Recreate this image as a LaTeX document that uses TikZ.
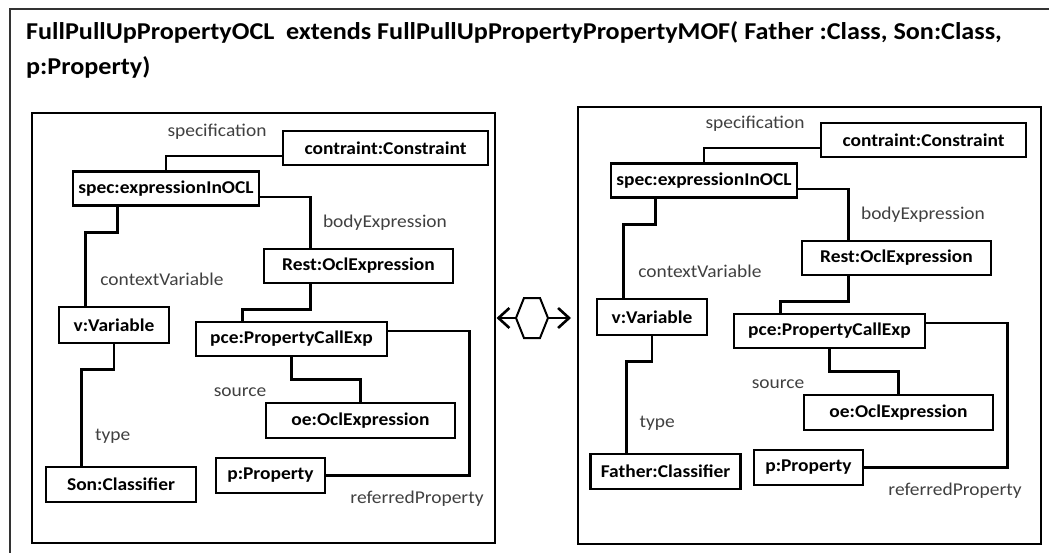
\documentclass[tikz,border=0pt]{standalone}
\usepackage{fontspec}
\setmainfont{Carlito}[FakeStretch=1.08]
\usepackage{tikz}
\usetikzlibrary{arrows.meta}
\tikzset{box/.style={draw, line width=2.6pt, minimum height=34pt, inner sep=0pt,
      font=\bfseries\fontsize{18}{20}\selectfont}}
\tikzset{lbl/.style={text=black!75, inner sep=0pt, font=\fontsize{18}{20}\selectfont}}
\tikzset{link/.style={line width=2.6pt}}
\tikzset{panel/.style={line width=2.6pt}}
\tikzset{frame/.style={line width=1.4pt, black!80}}
\tikzset{heading/.style={align=left, inner sep=0pt, font=\bfseries\fontsize{24.2}{35}\selectfont}}

% one object diagram; #1 classifier text, #2 its position
\newcommand{\oclpanel}[2]{%
  \node[box, minimum width=205pt] (con) at (385.5,148) {contraint:Constraint};
  \node[box, minimum width=186pt] (spec) at (166,188.5) {spec:expressionInOCL};
  \node[box, minimum width=189pt] (rest) at (358.5,266) {Rest:OclExpression};
  \node[box, minimum width=110pt, minimum height=36pt] (var) at (114,325) {v:Variable};
  \node[box, minimum width=191pt] (pce) at (291.5,339) {pce:PropertyCallExp};
  \node[box, minimum width=189pt, minimum height=35pt] (oe) at (360.5,420.5) {oe:OclExpression};
  \node[box, minimum width=109pt, minimum height=35pt] (prop) at (270.5,475.5) {p:Property};
  \node[box, minimum width=150pt, minimum height=35pt] (cls) at (#2) {#1};
  \draw[link] ([yshift=-8pt]con.west) -| (spec.north);
  \draw[link] ([yshift=-8.5pt]spec.east) -| ([xshift=48pt]rest.north west);
  \draw[link] ([xshift=46pt]spec.south west) -- ++(0,26) -| ([xshift=28pt]var.north west);
  \draw[link] ([xshift=48pt]rest.south west) -- ++(0,25) -| ([xshift=48pt]pce.north west);
  \draw[link] (var.south) -- ++(0,25) -| ([xshift=37pt]cls.north west);
  \draw[link] (pce.south) -- ++(0,22) -| (oe.north);
  \draw[link] ([yshift=8pt]pce.east) -- ++(81,0) |- (prop.east);
  \node[lbl] (specl) at (217,132) {specification};
  \node[lbl] (bodyl) at (385,223) {bodyExpression};
  \node[lbl] (ctxl) at (162,279) {contextVariable};
  \node[lbl] (typel) at ([xshift=68pt, yshift=29pt]cls.north west) {type};
  \node[lbl] (srcl) at (240,392) {source};
  \node[lbl] (refl) at (417,499) {referredProperty};
}

\begin{document}
\begin{tikzpicture}[x=1pt, y=-1pt]
  \useasboundingbox (0,0) rectangle (1049,553);
  \draw[frame] (10,553) -- (10,9) -- (1049,9);
  \node[heading, anchor=north west] (title) at (26,21)
    {FullPullUpPropertyOCL\ \ extends FullPullUpPropertyPropertyMOF( Father :Class, Son:Class,\\p:Property)};

  \draw[panel] (32,113) rectangle (495,543);
  \draw[panel] (578,107) rectangle (1041,544);
  \begin{scope}[name prefix=L-]
    \oclpanel{Son:Classifier}{121,484.5}
  \end{scope}
  \begin{scope}[shift={(538,-8)}, name prefix=R-]
    \oclpanel{Father:Classifier}{127.5,479.5}
  \end{scope}

  % refactoring symbol between the two
  \draw[line width=2pt] (516,318) coordinate (hexl) -- (524,298) -- (540,298)
    -- (548,318) coordinate (hexr) -- (540,338) -- (524,338) -- cycle;
  \coordinate (lend) at (496.5,318);
  \coordinate (rend) at (571,318);
  \draw[link, -{Straight Barb[length=11pt, width=20pt]}] (hexl) -- (lend);
  \draw[link, -{Straight Barb[length=11pt, width=20pt]}] (hexr) -- (rend);
\end{tikzpicture}
\end{document}
